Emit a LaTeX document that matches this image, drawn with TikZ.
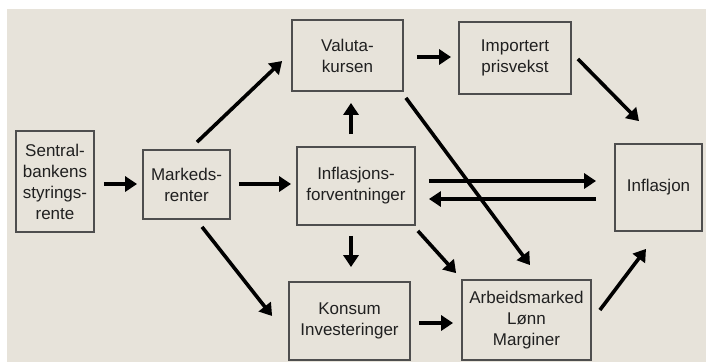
\documentclass[tikz,border=0pt]{standalone}
\usepackage{fontspec}
\setmainfont{Liberation Sans}
\usetikzlibrary{arrows.meta,calc}
\definecolor{bgc}{HTML}{E7E3DA}
\definecolor{boxc}{HTML}{4E4E4E}
\definecolor{txtc}{HTML}{202020}
\tikzset{
  box/.style={draw=boxc,line width=1.8pt,align=center,inner sep=0pt,
    text=txtc,font=\fontsize{17}{21}\selectfont},
  arr/.style={line width=3.6pt,draw=black,-{Triangle[length=12pt,width=15pt]}}
}
\begin{document}
\begin{tikzpicture}[x=1pt,y=-1pt]
\useasboundingbox (0,0) rectangle (706,362);
\fill[white] (0,0) rectangle (706,362);
\fill[bgc] (7,9) rectangle (706,361.5);
\node[box,minimum width=78pt,minimum height=101pt] (sb) at (55,181.5) {Sentral-\\bankens\\styrings-\\rente};
\node[box,minimum width=87pt,minimum height=69pt] (mr) at (186.5,184.5) {Markeds-\\renter};
\node[box,minimum width=111pt,minimum height=71pt] (vk) at (347.5,55.5) {Valuta-\\kursen};
\node[box,minimum width=112pt,minimum height=72pt] (ip) at (515,58) {Importert\\prisvekst};
\node[box,minimum width=87pt,minimum height=87pt] (inf) at (658.5,187.5) {Inflasjon};
\node[box,minimum width=118pt,minimum height=78pt] (ifv) at (356,186) {Inflasjons-\\forventninger};
\node[box,minimum width=121pt,minimum height=78pt] (ki) at (349.5,321) {Konsum\\Investeringer};
\node[box,minimum width=129pt,minimum height=80pt] (am) at (526.5,320) {Arbeidsmarked\\Lønn\\Marginer};
\draw[arr] ($(sb.east)+(9,2.5)$) -- ($(mr.west)+(-5,-0.5)$);
\draw[arr] ($(mr.north)+(10.5,-7)$) -- ($(vk.west)+(-9,5.5)$);
\draw[arr] ($(mr.east)+(8,-0.5)$) -- ($(ifv.west)+(-5,-2)$);
\draw[arr] ($(mr.south)+(15.5,7)$) -- ($(ki.west)+(-16,-5)$);
\draw[arr] ($(ifv.north)+(-5,-12)$) -- ($(vk.south)+(3.5,11)$);
\draw[arr] ($(ifv.south)+(-5,10)$) -- ($(ki.north)+(1.5,-14)$);
\draw[arr] ($(vk.east)+(13,1.5)$) -- ($(ip.west)+(-7,-1)$);
\draw[arr] ($(ip.east)+(6,1)$) -- ($(inf.north)+(-19.5,-22)$);
\draw[arr] ($(vk.south east)+(2,6)$) -- ($(am.north)+(3.5,-14)$);
\draw[arr] ($(ifv.east)+(13,-5)$) -- ($(inf.west)+(-18,-6.5)$);
\draw[arr] ($(inf.west)+(-18,11.5)$) -- ($(ifv.east)+(13,13)$);
\draw[arr] ($(ifv.south east)+(2,5)$) -- ($(am.north west)+(-5,-6)$);
\draw[arr] ($(ki.east)+(8,2)$) -- ($(am.west)+(-8,3)$);
\draw[arr] ($(am.east)+(8,-10)$) -- ($(inf.south)+(-12.5,17)$);
\end{tikzpicture}
\end{document}
